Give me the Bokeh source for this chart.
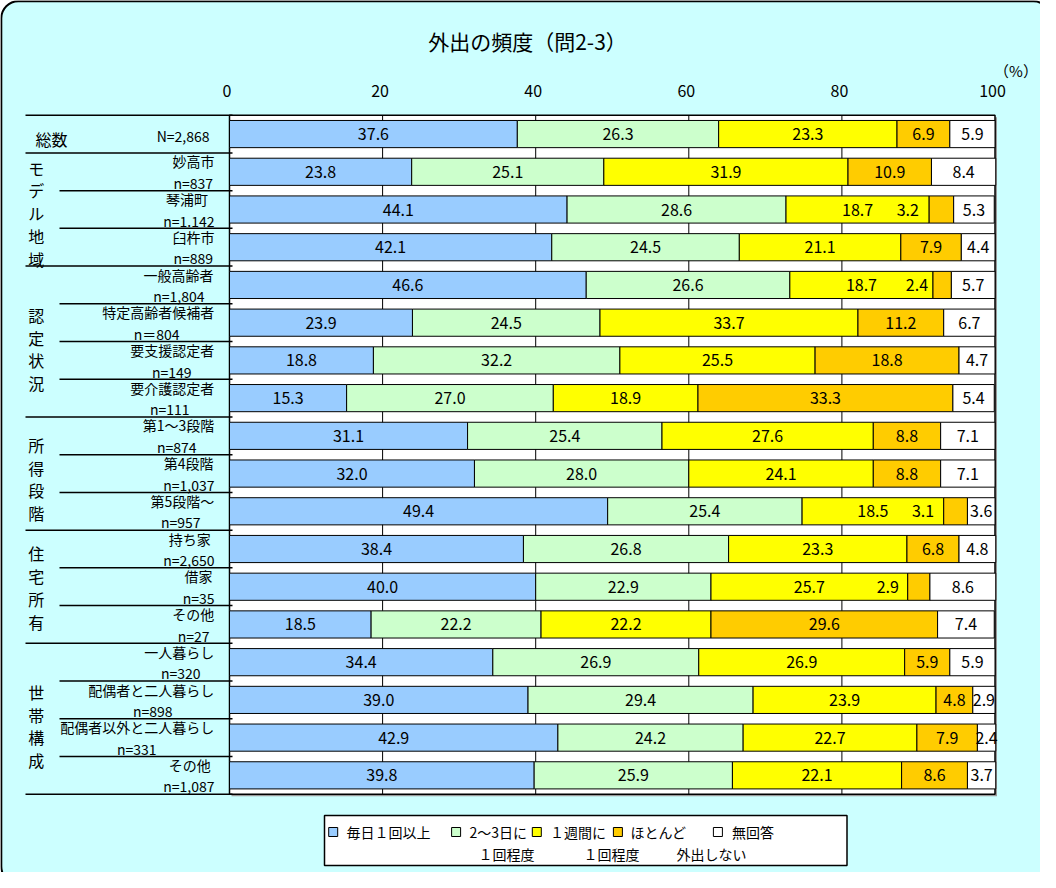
import numpy as np
from bokeh.plotting import figure
from bokeh.models import Range1d
from bokeh.embed import file_html
from bokeh.resources import INLINE
from bokeh.core.properties import value

# ---------------- data ----------------
title_text = "外出の頻度（問2-3）"
unit_text = "（%）"
axis_ticks = [0, 20, 40, 60, 80, 100]

series_names = ["毎日１回以上", "2～3日に\n１回程度", "１週間に\n１回程度", "ほとんど\n外出しない", "無回答"]
series_colors = ["#99CCFF", "#CCFFCC", "#FFFF00", "#FFCC00", "#FFFFFF"]

group_names = ["総数", "モデル地域", "認定状況", "所得段階", "住宅所有", "世帯構成"]
group_sizes = [1, 3, 4, 3, 3, 4]

row_names = ["", "妙高市", "琴浦町", "臼杵市",
             "一般高齢者", "特定高齢者候補者", "要支援認定者", "要介護認定者",
             "第1～3段階", "第4段階", "第5段階～",
             "持ち家", "借家", "その他",
             "一人暮らし", "配偶者と二人暮らし", "配偶者以外と二人暮らし", "その他"]
row_n = ["N=2,868", "n=837", "n=1.142", "n=889",
         "n=1,804", "n＝804", "n=149", "n=111",
         "n=874", "n=1,037", "n=957",
         "n=2,650", "n=35", "n=27",
         "n=320", "n=898", "n=331", "n=1,087"]

daily     = [37.6, 23.8, 44.1, 42.1, 46.6, 23.9, 18.8, 15.3, 31.1, 32.0, 49.4, 38.4, 40.0, 18.5, 34.4, 39.0, 42.9, 39.8]
few_days  = [26.3, 25.1, 28.6, 24.5, 26.6, 24.5, 32.2, 27.0, 25.4, 28.0, 25.4, 26.8, 22.9, 22.2, 26.9, 29.4, 24.2, 25.9]
weekly    = [23.3, 31.9, 18.7, 21.1, 18.7, 33.7, 25.5, 18.9, 27.6, 24.1, 18.5, 23.3, 25.7, 22.2, 26.9, 23.9, 22.7, 22.1]
rarely    = [6.9, 10.9, 3.2, 7.9, 2.4, 11.2, 18.8, 33.3, 8.8, 8.8, 3.1, 6.8, 2.9, 29.6, 5.9, 4.8, 7.9, 8.6]
no_answer = [5.9, 8.4, 5.3, 4.4, 5.7, 6.7, 4.7, 5.4, 7.1, 7.1, 3.6, 4.8, 8.6, 7.4, 5.9, 2.9, 2.4, 3.7]

# ---------------- layout / style (page pixels) ----------------
FONT = value("Noto Sans CJK JP")
W, H = 1040, 872
M = 8
PLOT_L, PLOT_R = 237.0, 1002.5
PLOT_T, PLOT_B = 122.7, 801.7
n_rows = len(row_names)
PX = (PLOT_R - PLOT_L) / 100.0
RY = (PLOT_B - PLOT_T) / n_rows

name_right_px = [0, 222, 215.5, 222, 221, 221.7, 221.7, 221.7, 221.7, 221, 221.7,
                 218.3, 220, 221.7, 221.7, 221.7, 221.7, 218.3]
n_right_px = [217, 220.5, 222, 220.5, 212, 187, 199, 197, 204, 222, 208,
              222, 222, 217, 208, 180, 164, 222]
group_dy_px = [0, 3.5, 7.5, 5.4, 0.7, 7.2]
label_nudge = {(2, 3): -4.4, (4, 3): -3.3, (10, 3): -4.25, (12, 3): -4.05}

leg_sq_px = [340.7, 463.6, 544.3, 625.4, 725.4]
leg_t1_px = [354, 477, 557.5, 638, 739.6]
leg_t2_px = [0, 486, 591, 684, 0]


def X(px):
    return (px - PLOT_L) / PX


def Y(py):
    return (py - PLOT_T) / RY


p = figure(width=W, height=H,
           x_range=Range1d(X(M), X(M + W)),
           y_range=Range1d(Y(M + H), Y(M)),
           output_backend="svg", toolbar_location=None,
           x_axis_location=None, y_axis_location=None,
           min_border=0, outline_line_color=None,
           background_fill_color="white", border_fill_color="white")
p.xgrid.visible = False
p.ygrid.visible = False


def txt(xs, ys, texts, size, align="center", baseline="middle", color="black"):
    p.text(x=list(xs), y=list(ys), text=list(texts), text_font=FONT,
           text_font_size=size, text_align=align, text_baseline=baseline,
           text_color=color)


# chart background with rounded frame
p.quad(left=[X(8.8)], right=[X(1058)], top=[Y(8.8)], bottom=[Y(891)],
       fill_color="#CCFFFF", line_color="black", line_width=2, border_radius=17)

# plot area (shadow + white)
p.quad(left=[X(PLOT_L + 2)], right=[X(PLOT_R + 2)], top=[Y(PLOT_T + 2)], bottom=[Y(PLOT_B + 2)],
       fill_color="#9A9A9A", line_color=None)
p.quad(left=[0], right=[100], top=[0], bottom=[n_rows],
       fill_color="white", line_color="black", line_width=1.5)

# vertical grid lines
grid_x = axis_ticks[1:-1]
p.segment(x0=grid_x, y0=[0] * len(grid_x), x1=grid_x, y1=[n_rows] * len(grid_x),
          line_color="black", line_width=1)

# stacked bars
series = [daily, few_days, weekly, rarely, no_answer]
ys = [i + 0.5 for i in range(n_rows)]
left = np.zeros(n_rows)
for j, vals in enumerate(series):
    vals = np.array(vals, dtype=float)
    right = left + vals
    p.hbar(y=ys, left=left, right=right, height=0.72,
           fill_color=series_colors[j], line_color="black", line_width=1)
    cx = (left + right) / 2.0
    cx = [c + label_nudge.get((i, j), 0.0) for i, c in enumerate(cx)]
    txt(cx, ys, [f"{v:.1f}" for v in vals], "16px")
    left = right

# top axis labels
txt([t - 2.5 / PX for t in axis_ticks], [Y(98.3)] * len(axis_ticks),
    [str(t) for t in axis_ticks], "16px")
txt([X(1023.5)], [Y(78.3)], [unit_text], "15px")

# title
txt([X(535)], [Y(48.3)], [title_text], "21px")

# left category separators
bounds = [0] + list(np.cumsum(group_sizes))
p.segment(x0=[X(33)] * len(bounds), y0=bounds, x1=[X(240)] * len(bounds), y1=bounds,
          line_color="black", line_width=1.5)
inner = [r for r in range(1, n_rows) if r not in bounds]
p.segment(x0=[X(67)] * len(inner), y0=inner, x1=[X(240)] * len(inner), y1=inner,
          line_color="black", line_width=1.5)

# group labels
for g, name in enumerate(group_names):
    s, k = bounds[g], group_sizes[g]
    if k == 1:
        txt([X(43)], [Y(PLOT_T + s * RY + RY / 2 + 4.9)], [name], "16px", align="left")
    else:
        cy = PLOT_T + (s + k / 2.0) * RY + group_dy_px[g]
        chars = list(name)
        cys = [Y(cy + (c - (len(chars) - 1) / 2.0) * 22.75) for c in range(len(chars))]
        txt([X(43.8)] * len(chars), cys, chars, "16px")

# row labels
for i in range(n_rows):
    top_px = PLOT_T + i * RY
    if row_names[i]:
        txt([X(name_right_px[i])], [Y(top_px + 8.5)], [row_names[i]], "14px", align="right")
        txt([X(n_right_px[i])], [Y(top_px + 30)], [row_n[i]], "14px", align="right")
    else:
        txt([X(n_right_px[i])], [Y(top_px + RY / 2 + 2.2)], [row_n[i]], "14px", align="right")

# legend
p.quad(left=[X(332)], right=[X(854.5)], top=[Y(823)], bottom=[Y(873)],
       fill_color="white", line_color="black", line_width=1.5)
p.scatter(x=[X(v) for v in leg_sq_px], y=[Y(839.5)] * len(leg_sq_px), marker="square",
          size=9, fill_color=series_colors, line_color="black", line_width=1)
for j, name in enumerate(series_names):
    parts = name.split("\n")
    txt([X(leg_t1_px[j])], [Y(839.5)], [parts[0]], "14px", align="left")
    if len(parts) > 1:
        txt([X(leg_t2_px[j])], [Y(861)], [parts[1]], "14px", align="left")

open("out.html", "w").write(file_html(p, INLINE))
